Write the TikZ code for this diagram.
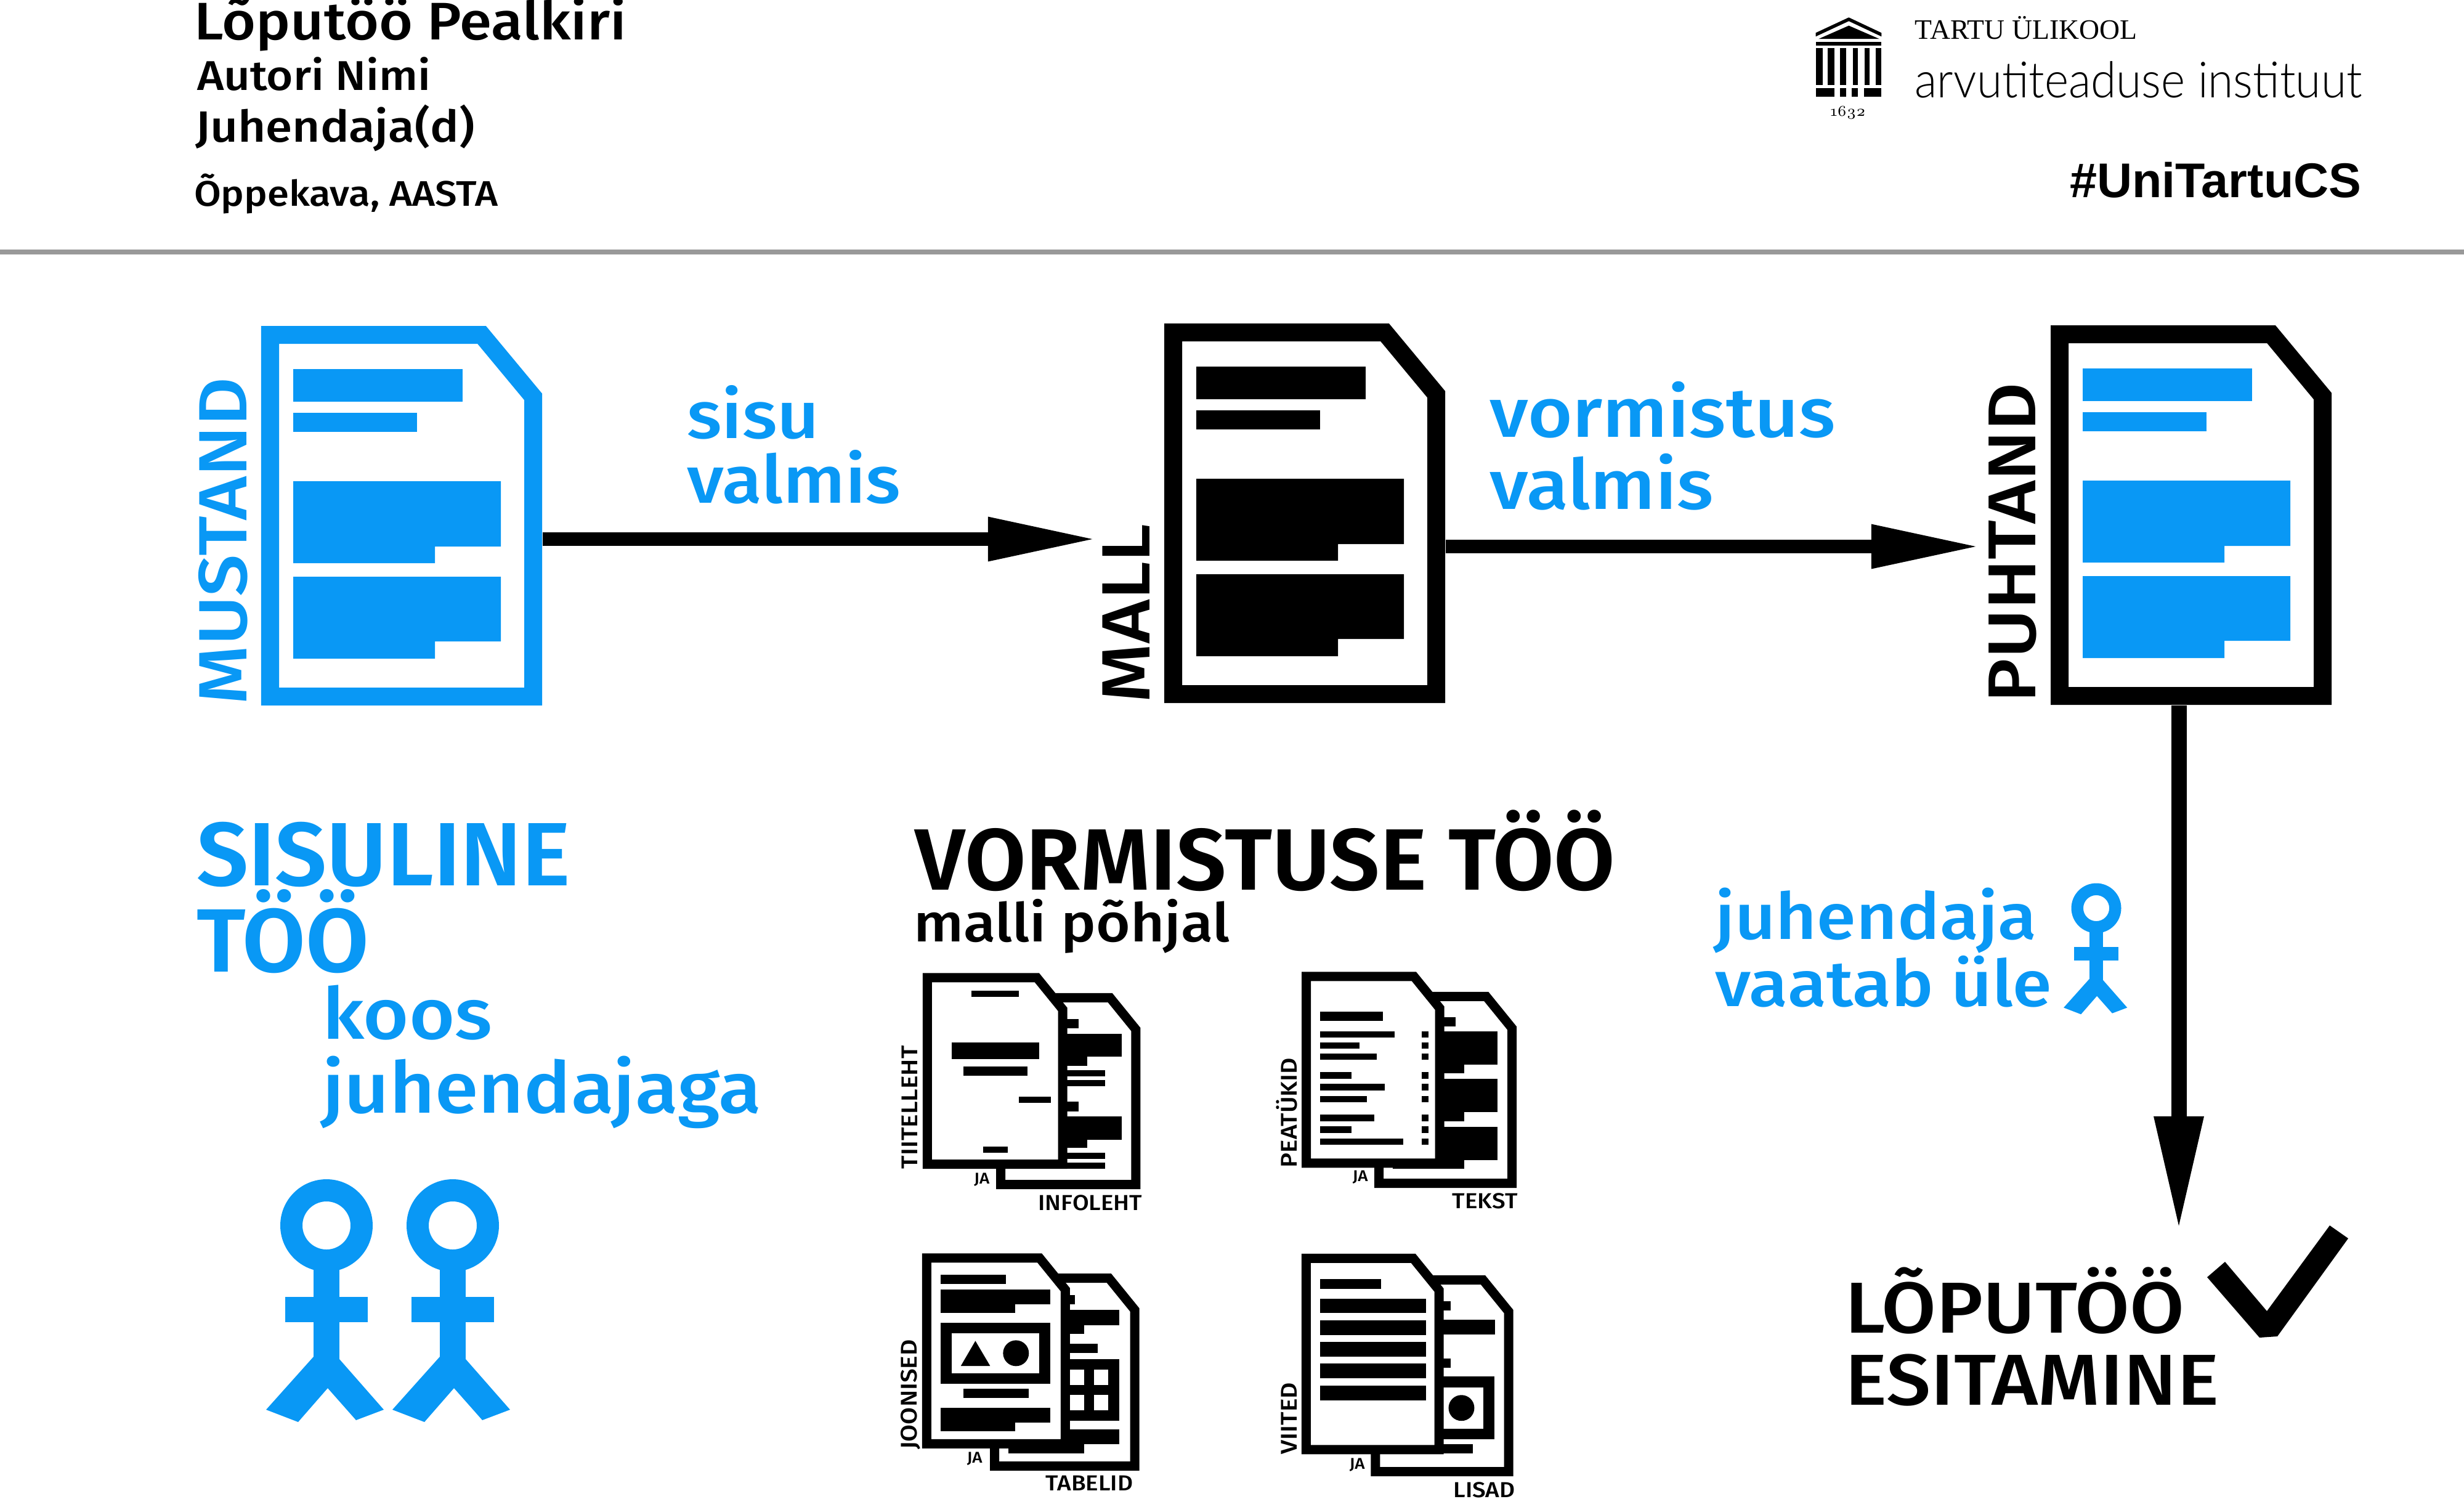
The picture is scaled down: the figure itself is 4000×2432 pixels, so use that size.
\documentclass[tikz,border=0pt]{standalone}
\usepackage{fontspec}
\usetikzlibrary{arrows.meta}
\setmainfont{Fira Sans}
\newfontfamily\rubik{Fira Sans}[UprightFont=* Medium,BoldFont=* SemiBold,UprightFeatures={FakeStretch=1.1},BoldFeatures={FakeStretch=1.02}]
\newfontfamily\thinfont{Lato}[UprightFont=* Light,UprightFeatures={FakeStretch=0.925}]
\newfontfamily\logoserif{Liberation Serif}
\newfontfamily\yearfont{Latin Modern Roman}[Numbers=OldStyle]
\newfontfamily\tagfont{Liberation Sans}
\definecolor{utblue}{HTML}{0998F5}
\tikzset{
  lbl/.style 2 args={font=\rubik\fontsize{#1}{#2}\selectfont, anchor=base west, inner sep=0, outer sep=0, align=left},
  sidelbl/.style={lbl={#1}{#1}, rotate=90},
  bigframe/.style={line width=0.29cm, miter limit=10, fill=white},
  minidoc/.style={draw=black, line width=0.15cm, miter limit=10, fill=white},
  docbox/.style={inner sep=0, minimum width=4.56cm, minimum height=6.16cm},
  bigarrow/.style={line width=#1, -{Triangle[length=1.77cm,width=0.66cm]}},
  downarrow/.style={line width=0.25cm, -{Triangle[length=1.86cm,width=0.74cm]}},
  smallzoom/.style={x=0.0033333cm, y=-0.0033333cm}
}
\begin{document}
\begin{tikzpicture}[x=0.01cm, y=-0.01cm]
\useasboundingbox (0,0) rectangle (4000,2432);

% one big sheet: name, left, top, frame colour, bar colour
\def\bigdoc#1#2#3#4#5{
  \begin{scope}[shift={(#2,#3)}]
    \node[docbox] (#1) at (228,308) {};
    \draw[bigframe, draw=#4] (14.5,14.5) -- (358,14.5) -- (441.5,115) -- (441.5,601.5) -- (14.5,601.5) -- cycle;
    \fill[#5] (52,70) rectangle (327,123);
    \fill[#5] (52,141) rectangle (253,172);
    \fill[#5] (52,252) -- (389,252) -- (389,358) -- (282,358) -- (282,385) -- (52,385) -- cycle;
    \fill[#5] (52,407) -- (389,407) -- (389,512) -- (282,512) -- (282,540) -- (52,540) -- cycle;
  \end{scope}
}
% small sheet: left, top, right, bottom
\def\smalldoc#1#2#3#4{
  \draw[minidoc] (#1+22.5,#2+22.5) -- (#3-148,#2+22.5) -- (#3-22.5,#2+177) -- (#3-22.5,#4-22.5) -- (#1+22.5,#4-22.5) -- cycle;
}
% stick figure: head centre and scale
\def\stickman#1#2#3{
  \begin{scope}[shift={(#1,#2)}, scale=#3]
    \fill[utblue, even odd rule] (0,0) circle (75) (0,0) circle (39);
    \fill[utblue] (-21,60) rectangle (21,224);
    \fill[utblue] (-67,116) rectangle (67,157);
    \fill[utblue] (-21,213) -- (-98,299) -- (-46,319) -- (2,264) -- (48,316) -- (93,299) -- (21,217) -- cycle;
  \end{scope}
}

% Header
\node[lbl={24.4}{24.4}] (title) at (315,64) {Lõputöö Pealkiri};
\node[lbl={19.2}{19.2}] (author) at (320,146) {Autori Nimi};
\node[lbl={20.2}{20.2}] (supervisor) at (317,230) {Juhendaja(d)};
\node[lbl={16.4}{16.4}] (curriculum) at (315,334) {Õppekava, AASTA};
\fill[black!40] (0,405) rectangle (4000,413);

% Logo
\begin{scope}[shift={(2850,0)}, x=0.0063776cm, y=-0.0033333cm]
  \fill (153,160) -- (237,85) -- (320,160) -- (320,178) -- (237,103) -- (153,178) -- cycle;
  \fill (160,190) -- (237,125) -- (315,190) -- cycle;
  \fill (153,205) rectangle (320,221);
  \foreach \xa/\xb in {153/170, 183/200, 215/230, 247/260, 277/290, 305/320}
    \fill (\xa,235) rectangle (\xb,415);
  \foreach \xa/\xb in {153/200, 215/230, 245/260, 275/320}
    \fill (\xa,430) rectangle (\xb,473);
  \node[anchor=base, inner sep=0, font=\yearfont\fontsize{7}{7}\selectfont] (year) at (235,565) {1632};
\end{scope}
\node[anchor=base west, inner sep=0, font=\logoserif\fontsize{13}{13}\selectfont] (uni) at (3108,63) {TARTU ÜLIKOOL};
\node[anchor=base west, inner sep=0, font=\thinfont\fontsize{23}{23}\selectfont] (institute) at (3108,158) {arvutiteaduse instituut};
\node[anchor=base east, inner sep=0, font=\tagfont\bfseries\fontsize{22.5}{22.5}\selectfont] (hashtag) at (3834,320) {\#UniTartuCS};

% Big sheets
\bigdoc{mustand}{424}{529}{utblue}{utblue}
\bigdoc{mall}{1890}{525}{black}{black}
\bigdoc{puhtand}{3329}{528}{black}{utblue}
\node[sidelbl=31.5, text=utblue] (lblmustand) at (400,1143) {MUSTAND};
\node[sidelbl=31.5] (lblmall) at (1866,1140) {MALL};
\node[sidelbl=31.2] (lblpuhtand) at (3304,1140) {PUHTAND};

% Arrows
\coordinate (sisutip) at (1781,875);
\coordinate (vormtip) at (3215,887);
\coordinate (endtip) at (3537,1998);
\draw[bigarrow=0.22cm] (mustand.east |- sisutip) -- (sisutip);
\draw[bigarrow=0.22cm] (mall.east |- vormtip) -- (vormtip);
\draw[downarrow] (endtip |- puhtand.south) -- (endtip);
\node[lbl={30.7}{29.6}, text=utblue] (sisu) at (1115,816) {sisu\\valmis};
\node[lbl={32.2}{33}, text=utblue] (vorm) at (2418,826) {vormistus\\valmis};

% Left column
\node[lbl={41.5}{36.5}, text=utblue, font=\rubik\bfseries\fontsize{41.5}{36.5}\selectfont] (sisuline) at (319,1577) {SISULINE\\TÖÖ};
\node[lbl={33}{34}, text=utblue] (koos) at (523,1806) {koos\\juhendajaga};
\stickman{530}{1989}{1}
\stickman{735}{1989}{1}

% Middle column
\node[lbl={40.2}{40.2}, font=\rubik\bfseries\fontsize{40.2}{40.2}\selectfont] (vormtoo) at (1485,1444) {VORMISTUSE TÖÖ};
\node[lbl={24.7}{24.7}] (mallist) at (1483,1528) {malli põhjal};

\begin{scope}[shift={(1420,1530)}, smallzoom]
  \smalldoc{592}{246}{1296}{1202}
  \foreach \xa/\ya/\xb/\yb in {900/372/995/418, 900/445/1204/556, 900/556/1037/600, 900/621/1123/651, 900/669/1123/699, 900/775/995/822, 900/848/1204/960, 900/960/1037/1002, 900/1025/1123/1055, 900/1072/1123/1102}
    \fill (\xa,\ya) rectangle (\xb,\yb);
  \smalldoc{234}{148}{939}{1103}
  \foreach \xa/\ya/\xb/\yb in {471/233/702/263, 376/488/801/569, 433/603/744/649, 702/750/860/780, 530/994/648/1025}
    \fill (\xa,\ya) rectangle (\xb,\yb);
  \node[sidelbl=10.5] (tiitelleht) at (210,1103) {TIITELLEHT};
  \node[lbl={7.2}{7.2}] (jaone) at (485,1175) {JA};
  \node[lbl={10}{10}] (infoleht) at (798,1305) {INFOLEHT};
\end{scope}

\begin{scope}[shift={(2040,1530)}, smallzoom]
  \smalldoc{574}{240}{1268}{1196}
  \foreach \xa/\ya/\xb/\yb in {880/362/969/408, 880/432/1176/596, 880/596/1012/638, 880/663/1176/827, 880/827/1012/870, 880/897/1176/1060, 663/1060/1012/1104}
    \fill (\xa,\ya) rectangle (\xb,\yb);
  \smalldoc{220}{142}{915}{1098}
  \foreach \xa/\ya/\xb/\yb in {310/337/616/383, 310/433/673/464, 310/486/502/517, 310/540/585/571, 310/632/463/663, 310/689/624/720, 310/747/537/778, 310/839/573/870, 310/896/464/927, 310/954/716/985}
    \fill (\xa,\ya) rectangle (\xb,\yb);
  \foreach \ya in {433, 486, 540, 632, 689, 747, 839, 896, 954}
    \fill (806,\ya) rectangle (837,\ya+31);
  \node[sidelbl=10.5] (peatykid) at (197,1098) {PEATÜKID};
  \node[lbl={7.2}{7.2}] (jatwo) at (468,1165) {JA};
  \node[lbl={10}{10}] (tekst) at (955,1297) {TEKST};
\end{scope}

\begin{scope}[shift={(1420,1990)}, smallzoom]
  \smalldoc{562}{232}{1291}{1193}
  \foreach \xa/\ya/\xb/\yb in {900/335/975/381, 900/408/1193/483, 900/483/1021/525, 900/574/1087/620, 900/648/1193/950, 900/992/1193/1065, 653/1065/1021/1108}
    \fill (\xa,\ya) rectangle (\xb,\yb);
  \foreach \xa/\ya/\xb/\yb in {920/701/1022/776, 1069/701/1139/776, 920/823/1022/898, 1069/823/1139/898}
    \fill[white] (\xa,\ya) rectangle (\xb,\yb);
  \smalldoc{231}{133}{952}{1084}
  \foreach \xa/\ya/\xb/\yb in {322/236/641/282, 322/309/855/382, 322/382/685/425, 322/471/855/770, 432/794/751/839, 322/885/855/958, 322/958/685/1001}
    \fill (\xa,\ya) rectangle (\xb,\yb);
  \fill[white] (376,524) rectangle (801,717);
  \fill (491,560) -- (420,682) -- (563,682) -- cycle;
  \fill (689,620) circle (63);
  \node[sidelbl=10.5] (joonised) at (205,1090) {JOONISED};
  \node[lbl={7.2}{7.2}] (jathree) at (450,1155) {JA};
  \node[lbl={10}{10}] (tabelid) at (835,1290) {TABELID};
\end{scope}

\begin{scope}[shift={(2040,1990)}, smallzoom]
  \smalldoc{557}{240}{1252}{1220}
  \foreach \xa/\ya/\xb/\yb in {880/365/946/411, 880/458/1164/530, 880/645/946/691, 880/732/1159/1041, 880/1064/1055/1110}
    \fill (\xa,\ya) rectangle (\xb,\yb);
  \fill[white] (880,786) rectangle (1107,987);
  \fill (999,887) circle (63);
  \smalldoc{219}{135}{912}{1113}
  \foreach \xa/\ya/\xb/\yb in {308/259/607/306, 308/353/825/425, 308/459/825/531, 308/565/825/637, 308/671/825/743, 308/777/825/849}
    \fill (\xa,\ya) rectangle (\xb,\yb);
  \node[sidelbl=10.5] (viited) at (197,1112) {VIITED};
  \node[lbl={7.2}{7.2}] (jafour) at (453,1185) {JA};
  \node[lbl={10}{10}] (lisad) at (960,1322) {LISAD};
\end{scope}

% Right column
\node[lbl={29.8}{31}, text=utblue] (juhendaja) at (2784,1633) {juhendaja\\vaatab üle};
\stickman{3403}{1474}{0.54}
\node[lbl={33.3}{33}] (esitamine) at (2995,2280) {LÕPUTÖÖ\\ESITAMINE};
\fill (3583,2073) -- (3612,2048) -- (3680,2128) -- (3782,1989) -- (3812,2010) -- (3697,2169) -- (3668,2171) -- cycle;
\end{tikzpicture}
\end{document}
